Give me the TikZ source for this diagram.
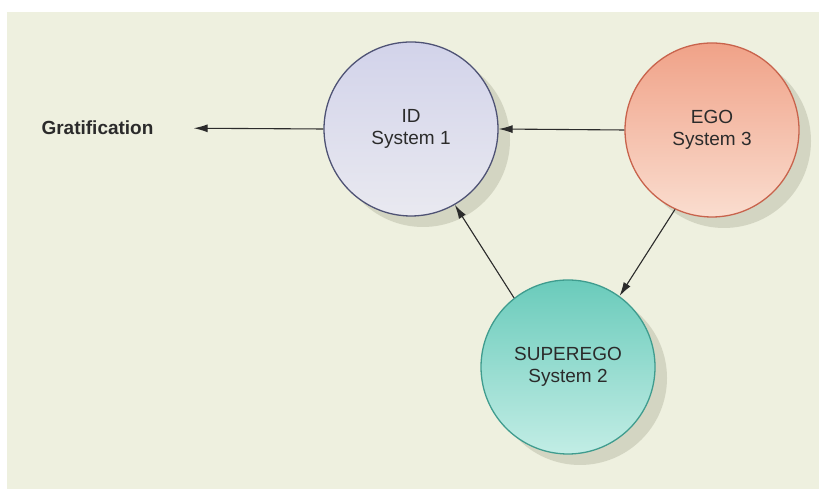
\documentclass[tikz,border=0pt]{standalone}
\usepackage{fontspec}
\setmainfont{Liberation Sans}
\usepackage{tikz}
\usetikzlibrary{arrows.meta, positioning, shadows}
\definecolor{paper}{HTML}{EEF0DF}
\definecolor{ink}{HTML}{2B2B2B}
\definecolor{idline}{HTML}{4E5274}
\definecolor{idtop}{HTML}{D2D3EA}
\definecolor{idbot}{HTML}{E9E9F0}
\definecolor{egoline}{HTML}{C8634C}
\definecolor{egotop}{HTML}{F0A288}
\definecolor{egobot}{HTML}{FADDCF}
\definecolor{supline}{HTML}{3F9C8E}
\definecolor{suptop}{HTML}{6ACBBB}
\definecolor{supbot}{HTML}{C2EDE5}
\definecolor{shade}{HTML}{4A4C30}
\tikzset{
  font=\fontsize{19}{22}\selectfont,
  >={Latex[length=14pt, width=8pt]},
  %
  psyche/.style={
    circle, line width=1.3pt, minimum size=174pt, inner sep=0pt,
    align=center, text=ink,
    drop shadow={shadow xshift=12pt, shadow yshift=-11pt,
                 fill=shade, draw=none, opacity=0.16},
  },
  idc/.style={psyche, draw=idline, top color=idtop, bottom color=idbot},
  egoc/.style={psyche, draw=egoline, top color=egotop, bottom color=egobot},
  supc/.style={psyche, draw=supline, top color=suptop, bottom color=supbot},
  %
  flow/.style={draw=ink, line width=1.1pt, ->},
  lbl/.style={font=\fontsize{19}{22}\selectfont\bfseries, text=ink, inner sep=0pt},
}
\begin{document}
\begin{tikzpicture}[x=1pt, y=1pt]

% ---------------------------------------------------------------- frame
\useasboundingbox (0,0) rectangle (819,489);
\fill[paper] (7,0) rectangle (819,477);

% ---------------------------------------------------------------- systems
\node[idc]  (id)  at (411,360) {ID\\System 1};
\node[egoc] (ego) at (712,359) {EGO\\System 3};
\node[supc] (sup) at (568,122) {SUPEREGO\\System 2};

\node[lbl] (grat) at (97.5,361) {Gratification};

% ---------------------------------------------------------------- arrows
\draw[flow, shorten >=40pt] (id.west) -- (grat.east);
\draw[flow] (ego.west) -- (id.east);
\draw[flow] (ego.-115) -- (sup.54);
\draw[flow] (sup.128) -- (id.-60);

\end{tikzpicture}
\end{document}
